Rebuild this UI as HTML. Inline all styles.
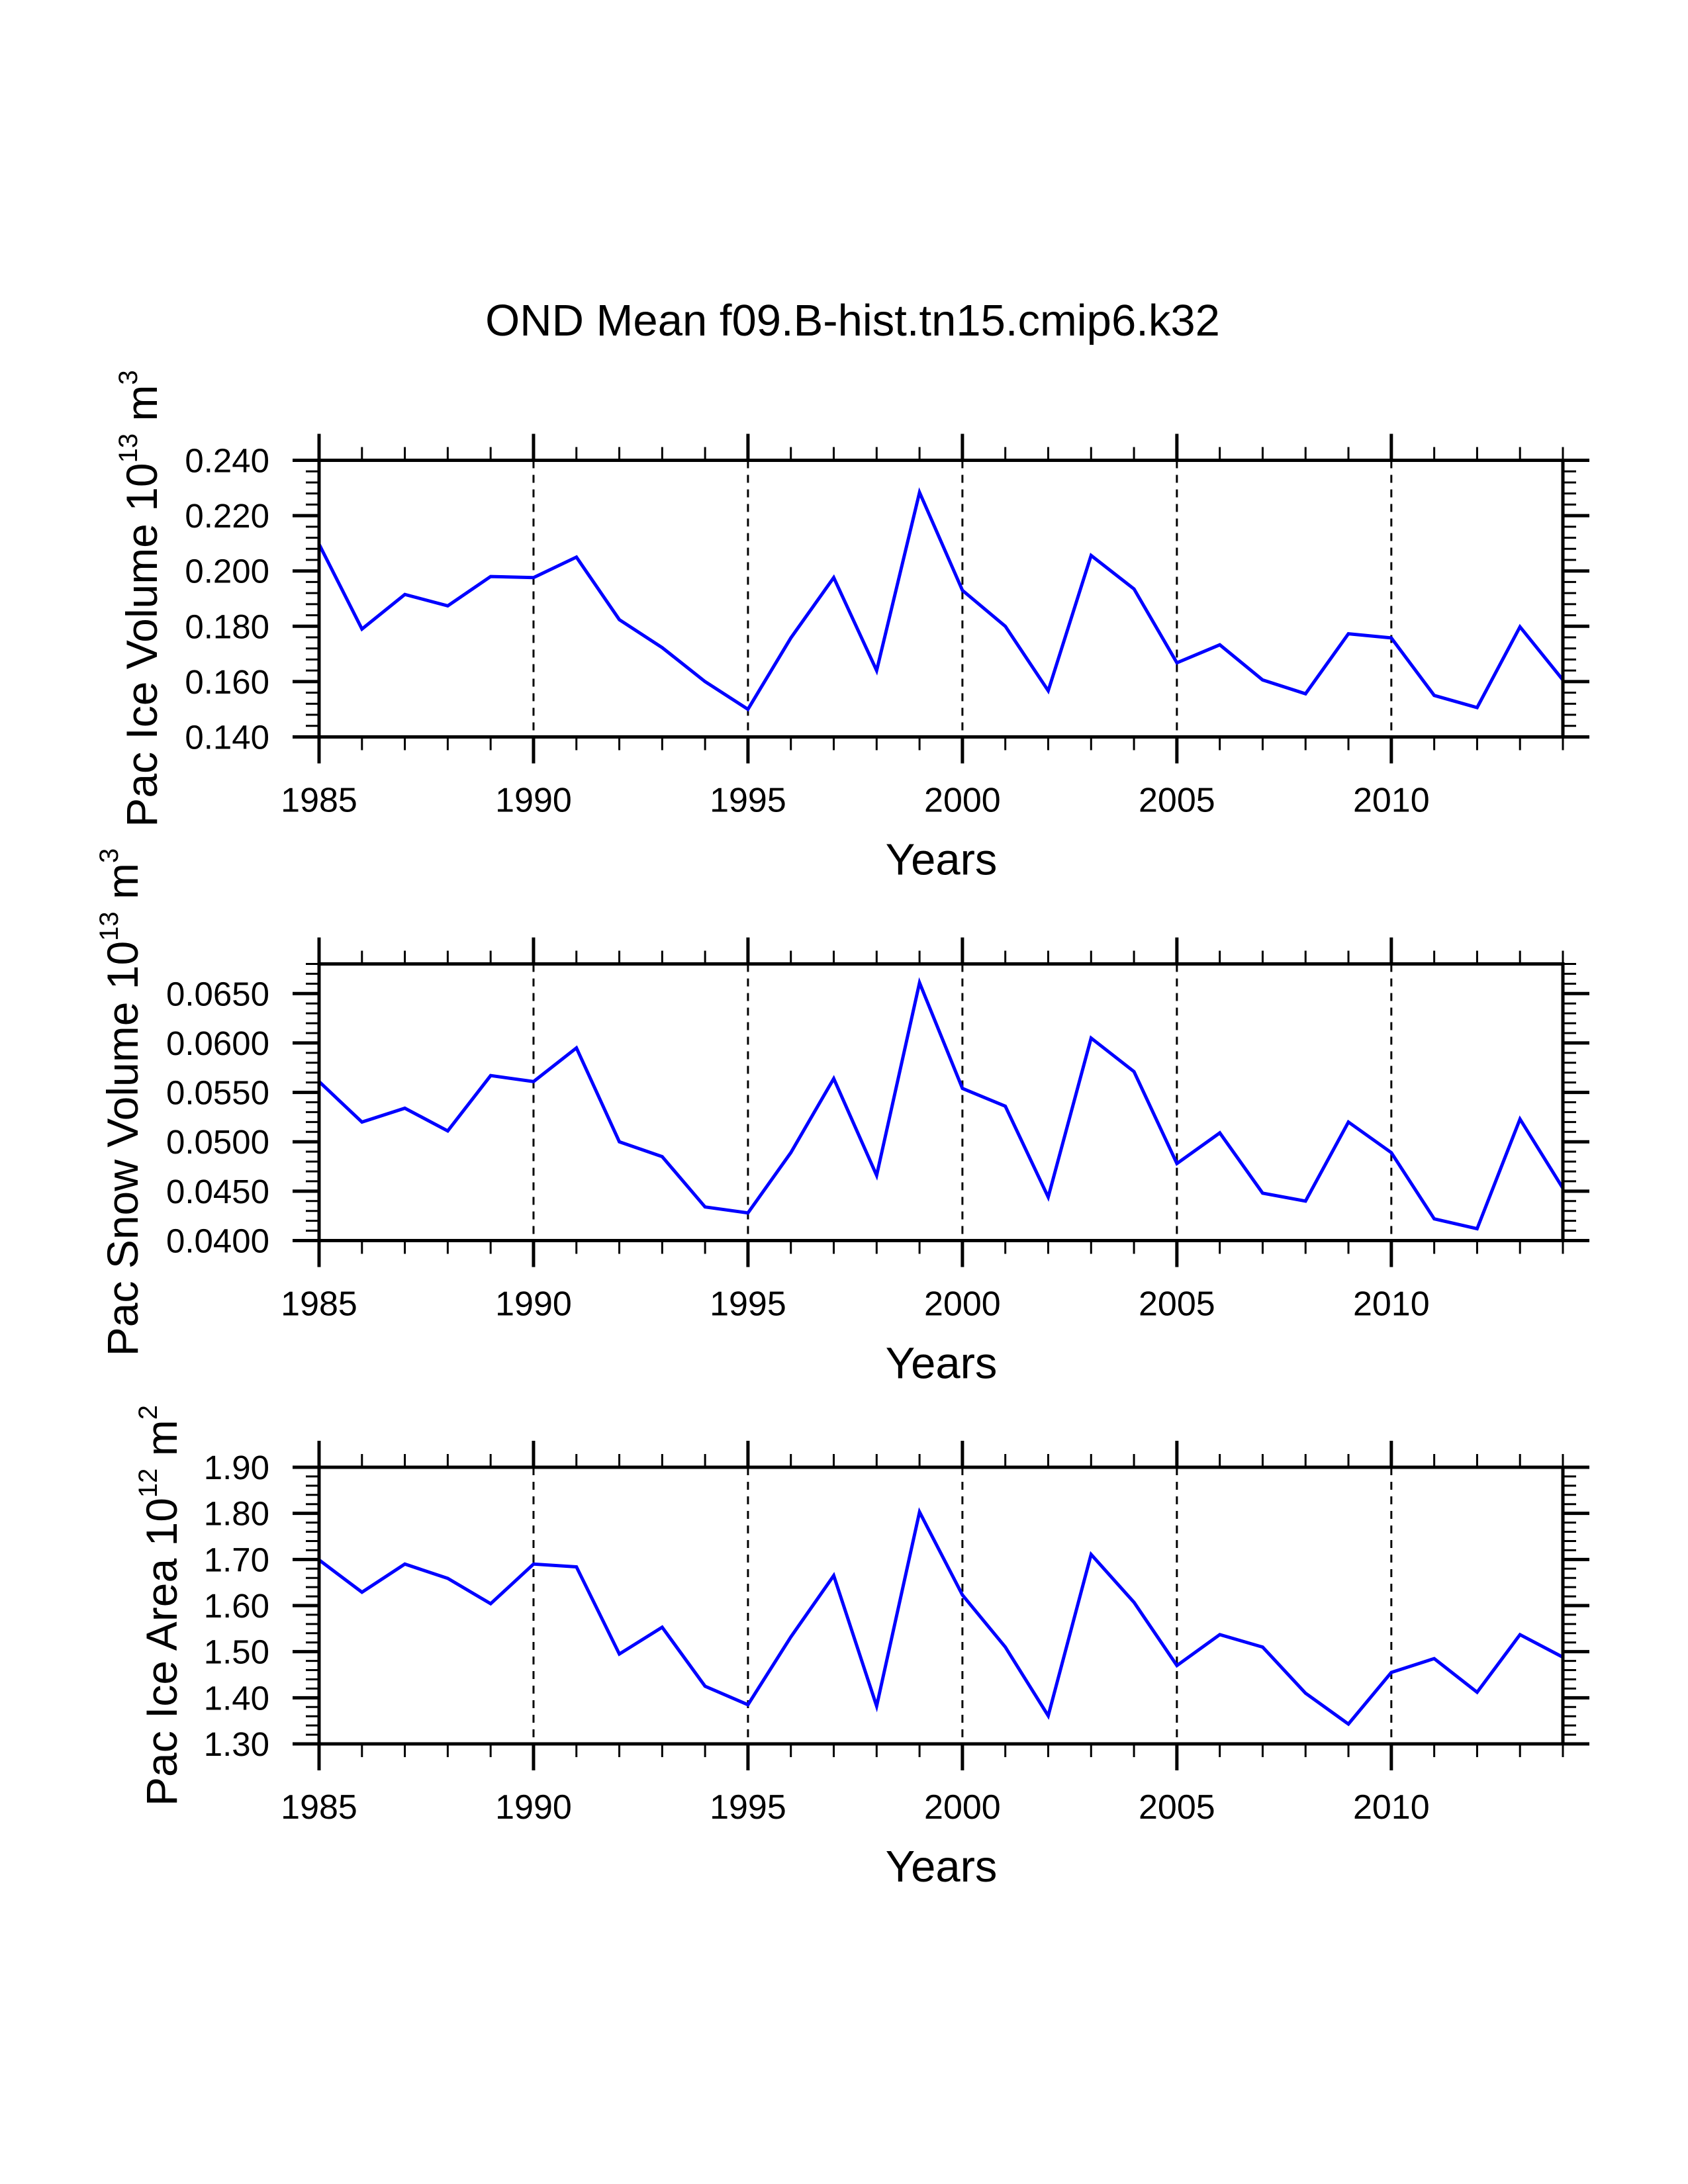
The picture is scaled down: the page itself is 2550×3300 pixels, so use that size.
<!DOCTYPE html>
<html><head><meta charset="utf-8"><style>
html,body{margin:0;padding:0;background:#fff}
svg{display:block}
text{font-family:"Liberation Sans",Arial,sans-serif;fill:#000}
</style></head><body>
<svg id="chart" width="2550" height="3300" viewBox="0 0 2550 3300" xmlns="http://www.w3.org/2000/svg">
<rect x="0" y="0" width="2550" height="3300" fill="#fff"/>
<text x="1288" y="507" font-size="67" text-anchor="middle">OND Mean f09.B-hist.tn15.cmip6.k32</text>
</svg>
<script>
const years = [1985,1986,1987,1988,1989,1990,1991,1992,1993,1994,1995,1996,1997,1998,1999,2000,2001,2002,2003,2004,2005,2006,2007,2008,2009,2010,2011,2012,2013,2014];
const xTickLabels = ["1985","1990","1995","2000","2005","2010"];
const iceVolume = [0.2097,0.179,0.1915,0.1874,0.198,0.1976,0.205,0.1824,0.1723,0.160,0.150,0.1758,0.1976,0.164,0.2284,0.193,0.180,0.1567,0.2056,0.1935,0.1668,0.1733,0.1606,0.1556,0.1773,0.1758,0.155,0.1506,0.1798,0.1606];
const snowVolume = [0.0561,0.0520,0.0534,0.0511,0.0567,0.0561,0.0595,0.0500,0.0485,0.0434,0.0428,0.0489,0.0564,0.0466,0.0661,0.0554,0.0536,0.0444,0.0605,0.0571,0.0478,0.0509,0.0448,0.0440,0.0520,0.0489,0.0422,0.0412,0.0523,0.0453];
const iceArea = [1.699,1.629,1.690,1.659,1.604,1.690,1.684,1.495,1.553,1.425,1.385,1.532,1.665,1.382,1.803,1.623,1.510,1.361,1.711,1.607,1.470,1.537,1.510,1.410,1.343,1.455,1.485,1.412,1.537,1.488];
const iceVolTicks = ["0.140","0.160","0.180","0.200","0.220","0.240"];
const snowVolTicks = ["0.0400","0.0450","0.0500","0.0550","0.0600","0.0650"];
const iceAreaTicks = ["1.30","1.40","1.50","1.60","1.70","1.80","1.90"];

const NS = "http://www.w3.org/2000/svg";
const svg = document.getElementById('chart');
function mk(tag, attrs, parent){
  const e = document.createElementNS(NS, tag);
  for (const k in attrs) e.setAttribute(k, attrs[k]);
  (parent||svg).appendChild(e);
  return e;
}
const X0 = 482, X1 = 2361, H = 418;
const xMin = 1985, xMax = 2014;
function xs(v){ return X0 + (v - xMin) / (xMax - xMin) * (X1 - X0); }

const panels = [
  {name:'ice-volume', top:695.5, ymin:0.140, ymax:0.240, minor:0.004, data:iceVolume, ticks:iceVolTicks, titleX:237, title:'Pac Ice Volume 10', sup1:'13', unit:' m', sup2:'3'},
  {name:'snow-volume', top:1456.5, ymin:0.0400, ymax:0.0680, minor:0.001, data:snowVolume, ticks:snowVolTicks, titleX:208, title:'Pac Snow Volume 10', sup1:'13', unit:' m', sup2:'3'},
  {name:'ice-area', top:2217, ymin:1.30, ymax:1.90, minor:0.02, data:iceArea, ticks:iceAreaTicks, titleX:267, title:'Pac Ice Area 10', sup1:'12', unit:' m', sup2:'2'}
];

panels.forEach(p => {
  const g = mk('g', {});
  
  
  const Y0 = p.top, Y1 = p.top + H;
  const ys = v => Y1 - (v - p.ymin) / (p.ymax - p.ymin) * H;

  xTickLabels.forEach(t => {
    const yr = +t;
    if (yr === xMin) return;
    const l = mk('line', {x1:xs(yr), x2:xs(yr), y1:Y0, y2:Y1, stroke:'#000', 'stroke-width':3, 'stroke-dasharray':'12 10'}, g);
    
    
  });

  const pts = p.data.map((v,i) => xs(years[i]).toFixed(1) + ',' + ys(v).toFixed(1)).join(' ');
  const pl = mk('polyline', {points:pts, fill:'none', stroke:'#0000ff', 'stroke-width':5, 'stroke-linejoin':'miter'}, g);
  
  

  const fr = mk('rect', {x:X0, y:Y0, width:X1-X0, height:H, fill:'none', stroke:'#000', 'stroke-width':5}, g);
  
  

  years.forEach(yr => {
    const major = xTickLabels.indexOf(String(yr)) >= 0;
    const len = major ? 40 : 20, w = major ? 5 : 3;
    mk('line', {x1:xs(yr), x2:xs(yr), y1:Y0, y2:Y0-len, stroke:'#000', 'stroke-width':w}, g);
    mk('line', {x1:xs(yr), x2:xs(yr), y1:Y1, y2:Y1+len, stroke:'#000', 'stroke-width':w}, g);
  });
  xTickLabels.forEach(t => {
    const tx = mk('text', {x:xs(+t), y:Y1+113, 'font-size':52, 'text-anchor':'middle'}, g);
    tx.textContent = t;
    
    
  });

  const nMinor = Math.round((p.ymax - p.ymin) / p.minor);
  const majorStep = (+p.ticks[1]) - (+p.ticks[0]);
  for (let i = 0; i <= nMinor; i++) {
    const v = p.ymin + i * p.minor;
    const r = (v - p.ymin) / majorStep;
    const major = Math.abs(r - Math.round(r)) < 1e-6;
    const len = major ? 40 : 20, w = major ? 5 : 3;
    mk('line', {x1:X0, x2:X0-len, y1:ys(v), y2:ys(v), stroke:'#000', 'stroke-width':w}, g);
    mk('line', {x1:X1, x2:X1+len, y1:ys(v), y2:ys(v), stroke:'#000', 'stroke-width':w}, g);
  }
  p.ticks.forEach(t => {
    const tx = mk('text', {x:407, y:ys(+t)+18, 'font-size':51, 'text-anchor':'end'}, g);
    tx.textContent = t;
    
    
  });

  const xt = mk('text', {x:1422, y:Y1+208, 'font-size':67, 'text-anchor':'middle'}, g);
  xt.textContent = 'Years';
  
  

  const cy = (Y0 + Y1) / 2;
  const yt = mk('text', {x:0, y:0, 'font-size':66, 'text-anchor':'middle', transform:'translate(' + p.titleX + ',' + cy + ') rotate(-90)'}, g);
  
  
  const s1 = mk('tspan', {}, yt); s1.textContent = p.title;
  const s2 = mk('tspan', {dy:-30, 'font-size':40}, yt); s2.textContent = p.sup1;
  const s3 = mk('tspan', {dy:30}, yt); s3.textContent = p.unit;
  const s4 = mk('tspan', {dy:-30, 'font-size':40}, yt); s4.textContent = p.sup2;
});
</script>
</body></html>
